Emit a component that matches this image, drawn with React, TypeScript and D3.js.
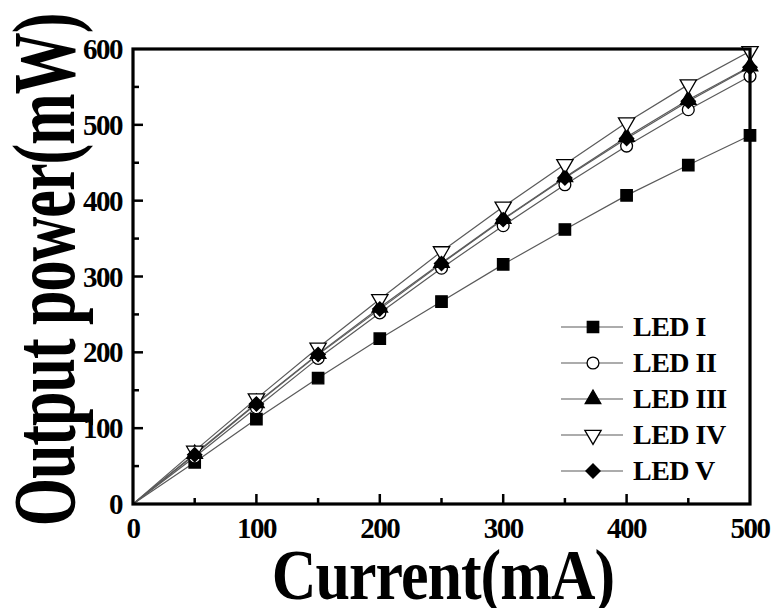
import React, { useRef, useEffect } from 'react';
import * as d3 from 'd3';

const currents = [0, 50, 100, 150, 200, 250, 300, 350, 400, 450, 500];
const ledI = [0, 55, 112, 166, 218, 267, 316, 362, 407, 447, 486];
const ledII = [0, 62, 127, 192, 252, 311, 367, 421, 472, 520, 564];
const ledIII = [0, 66, 133, 198, 259, 318, 376, 431, 484, 533, 577];
const ledIV = [0, 70, 139, 206, 270, 333, 392, 448, 503, 553, 597];
const ledV = [0, 65, 132, 197, 257, 317, 375, 430, 482, 531, 576];

const seriesNames = ['LED I', 'LED II', 'LED III', 'LED IV', 'LED V'];
const seriesValues = [ledI, ledII, ledIII, ledIV, ledV];

const xTicks = [0, 100, 200, 300, 400, 500];
const yTicks = [0, 100, 200, 300, 400, 500, 600];

const FONT = '"Times New Roman", "Liberation Serif", serif';

type MarkerKind = 'square' | 'circle' | 'triangle' | 'triangleDown' | 'diamond';
const markers: MarkerKind[] = ['square', 'circle', 'triangle', 'triangleDown', 'diamond'];

function markerPath(kind: MarkerKind) {
  switch (kind) {
    case 'square':
      return { d: d3.symbol(d3.symbolSquare, 130)()!, fill: '#000', rot: 0 };
    case 'circle':
      return { d: d3.symbol(d3.symbolCircle, 110)()!, fill: '#fff', rot: 0 };
    case 'triangle':
      return { d: d3.symbol(d3.symbolTriangle, 105)()!, fill: '#000', rot: 0 };
    case 'triangleDown':
      return { d: d3.symbol(d3.symbolTriangle, 115)()!, fill: '#fff', rot: 180 };
    default:
      return { d: d3.symbol(d3.symbolSquare, 100)()!, fill: '#000', rot: 45 };
  }
}

export default function App() {
  const svgRef = useRef<SVGSVGElement>(null);
  const width = 772;
  const height = 608;

  useEffect(() => {
    const svg = d3.select(svgRef.current);
    svg.selectAll('*').remove();

    const left = 133, right = 750, top = 49, bottom = 504;

    const x = d3.scaleLinear().domain([0, 500]).range([left, right]);
    const y = d3.scaleLinear().domain([0, 600]).range([bottom, top]);

    svg.append('rect')
      .attr('width', width)
      .attr('height', height)
      .attr('fill', '#fff');

    // series lines
    const line = d3.line<number>()
      .x((d, i) => x(currents[i]))
      .y(d => y(d));

    seriesValues.forEach(vals => {
      svg.append('path')
        .datum(vals)
        .attr('d', line)
        .attr('fill', 'none')
        .attr('stroke', '#5a5a5a')
        .attr('stroke-width', 1.2);
    });

    // markers (skip origin)
    seriesValues.forEach((vals, si) => {
      const m = markerPath(markers[si]);
      svg.append('g')
        .selectAll('path')
        .data(vals.slice(1))
        .enter()
        .append('path')
        .attr('d', m.d)
        .attr('transform', (d, i) => `translate(${x(currents[i + 1])},${y(d)}) rotate(${m.rot})`)
        .attr('fill', m.fill)
        .attr('stroke', '#000')
        .attr('stroke-width', 1.3);
    });

    // frame
    svg.append('rect')
      .attr('x', left)
      .attr('y', top)
      .attr('width', right - left)
      .attr('height', bottom - top)
      .attr('fill', 'none')
      .attr('stroke', '#000')
      .attr('stroke-width', 3.2);

    // ticks (inward, major + minor)
    const xMinor = d3.range(0, 501, 50);
    svg.append('g')
      .selectAll('line')
      .data(xMinor.filter(v => v > 0 && v < 500))
      .enter()
      .append('line')
      .attr('x1', d => x(d))
      .attr('x2', d => x(d))
      .attr('y1', bottom)
      .attr('y2', d => bottom - (d % 100 === 0 ? 10 : 6))
      .attr('stroke', '#000')
      .attr('stroke-width', 2.5);

    const yMinor = d3.range(0, 601, 50);
    svg.append('g')
      .selectAll('line')
      .data(yMinor.filter(v => v > 0 && v < 600))
      .enter()
      .append('line')
      .attr('y1', d => y(d))
      .attr('y2', d => y(d))
      .attr('x1', left)
      .attr('x2', d => left + (d % 100 === 0 ? 10 : 6))
      .attr('stroke', '#000')
      .attr('stroke-width', 2.5);

    // tick labels
    svg.append('g')
      .selectAll('text')
      .data(xTicks)
      .enter()
      .append('text')
      .attr('x', d => x(d))
      .attr('y', 538)
      .attr('text-anchor', 'middle')
      .attr('font-family', FONT)
      .attr('font-weight', 'bold')
      .attr('font-size', 29)
      .attr('letter-spacing', -1.5)
      .text(d => String(d));

    svg.append('g')
      .selectAll('text')
      .data(yTicks)
      .enter()
      .append('text')
      .attr('x', 122)
      .attr('y', d => y(d) + 10)
      .attr('text-anchor', 'end')
      .attr('font-family', FONT)
      .attr('font-weight', 'bold')
      .attr('font-size', 29)
      .attr('letter-spacing', -1.5)
      .text(d => String(d));

    // axis titles
    svg.append('text')
      .attr('transform', 'translate(443,599) scale(1,1.15)')
      .attr('text-anchor', 'middle')
      .attr('font-family', FONT)
      .attr('font-weight', 'bold')
      .attr('font-size', 62)
      .attr('letter-spacing', -1)
      .text('Current(mA)');

    svg.append('text')
      .attr('transform', 'translate(74,270) rotate(-90) scale(1,1.45)')
      .attr('text-anchor', 'middle')
      .attr('font-family', FONT)
      .attr('font-weight', 'bold')
      .attr('font-size', 62)
      .attr('letter-spacing', -1)
      .text('Output power(mW)');

    // legend
    const legend = svg.append('g');
    seriesNames.forEach((name, i) => {
      const ry = 327 + i * 36;
      const m = markerPath(markers[i]);
      legend.append('line')
        .attr('x1', 561)
        .attr('x2', 623)
        .attr('y1', ry)
        .attr('y2', ry)
        .attr('stroke', '#5a5a5a')
        .attr('stroke-width', 1.2);
      legend.append('path')
        .attr('d', m.d)
        .attr('transform', `translate(593,${ry}) rotate(${m.rot})`)
        .attr('fill', m.fill)
        .attr('stroke', '#000')
        .attr('stroke-width', 1.3);
      legend.append('text')
        .attr('x', 633)
        .attr('y', ry + 9)
        .attr('font-family', FONT)
        .attr('font-weight', 'bold')
        .attr('font-size', 28)
        .attr('letter-spacing', -0.5)
        .text(name);
    });
  }, []);

  return (
    <svg
      ref={svgRef}
      width={width}
      height={height}
      style={{ position: 'absolute', left: 0, top: 0, display: 'block' }}
    />
  );
}
